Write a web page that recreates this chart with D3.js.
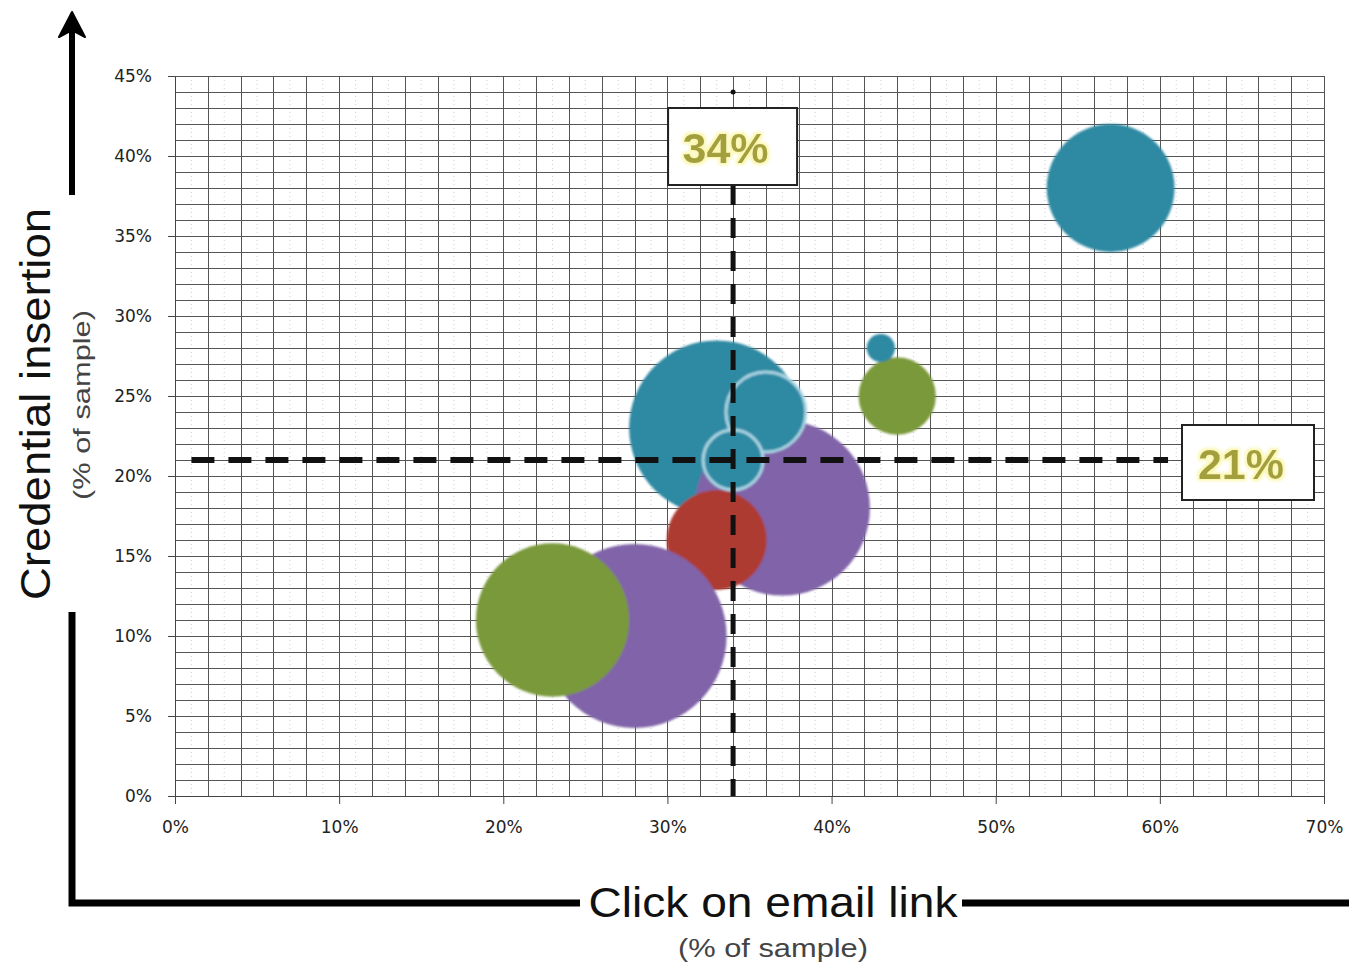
<!DOCTYPE html>
<html>
<head>
<meta charset="utf-8">
<script src="https://cdn.jsdelivr.net/npm/d3@7"></script>
<style>
  html, body { margin: 0; padding: 0; background: #fff; }
  svg { display: block; }
</style>
</head>
<body>
<svg id="chart" width="1349" height="964"></svg>
<script>
// Click rate vs. credential insertion rate, per group (percent of sample)
const clickRate      = [33, 37, 36, 34, 33, 28, 23, 44, 43, 57];
const credentialRate = [23, 18, 24, 21, 16, 10, 11, 25, 28, 38];
const bubbleSize     = [77, 77, 16,  9, 25, 85, 59, 15,  2, 41];
const bubbleGroup    = ["A", "B", "A", "A", "C", "B", "D", "D", "A", "A"];

// Average thresholds shown as dashed reference lines
const avgClick = 34;
const avgCredential = 21;

const xTicks = [0, 10, 20, 30, 40, 50, 60, 70];
const yTicks = [0, 5, 10, 15, 20, 25, 30, 35, 40, 45];

const groupColor = { A: "#2e89a3", B: "#8064a8", C: "#ad3a32", D: "#7a993a" };
const ringed = new Set([2, 3]);

const svg = d3.select("#chart");

const x = d3.scaleLinear().domain([0, 70]).range([175, 1324]);
const y = d3.scaleLinear().domain([0, 45]).range([796, 76]);
const r = d3.scaleSqrt().domain([0, 85]).range([0, 92]);

const defs = svg.append("defs");
defs.append("filter").attr("id", "soft")
  .attr("x", "-10%").attr("y", "-10%").attr("width", "120%").attr("height", "120%")
  .append("feGaussianBlur").attr("stdDeviation", 0.9);
const glow = defs.append("filter").attr("id", "glow")
  .attr("x", "-20%").attr("y", "-20%").attr("width", "140%").attr("height", "140%");
glow.append("feMorphology").attr("in", "SourceAlpha").attr("operator", "dilate").attr("radius", 1.5).attr("result", "d");
glow.append("feGaussianBlur").attr("in", "d").attr("stdDeviation", 1.5).attr("result", "b");
glow.append("feFlood").attr("flood-color", "#fbf7b0");
glow.append("feComposite").attr("in2", "b").attr("operator", "in").attr("result", "g");
const gm = glow.append("feMerge");
gm.append("feMergeNode").attr("in", "g");
gm.append("feMergeNode").attr("in", "SourceGraphic");

// ---- grid ----
const grid = svg.append("g");
grid.selectAll("line.minor-v")
  .data(d3.range(1, 70, 2))
  .join("line")
  .attr("x1", d => x(d)).attr("x2", d => x(d))
  .attr("y1", y(45)).attr("y2", y(0))
  .attr("stroke", "#d0d0d0").attr("stroke-width", 1).attr("stroke-dasharray", "1,3");
grid.selectAll("line.v")
  .data(d3.range(0, 71, 2))
  .join("line")
  .attr("x1", d => Math.round(x(d)) + 0.5).attr("x2", d => Math.round(x(d)) + 0.5)
  .attr("y1", y(45)).attr("y2", y(0))
  .attr("stroke", "#555").attr("stroke-width", 1);
grid.selectAll("line.h")
  .data(d3.range(0, 46, 1))
  .join("line")
  .attr("x1", x(0)).attr("x2", x(70))
  .attr("y1", d => Math.round(y(d)) + 0.5).attr("y2", d => Math.round(y(d)) + 0.5)
  .attr("stroke", "#555").attr("stroke-width", 1);

// ---- axes ----
const pct = d => d + "%";
const xAxis = svg.append("g")
  .attr("transform", `translate(0,${y(0)})`)
  .call(d3.axisBottom(x).tickValues(xTicks).tickFormat(pct).tickSize(8).tickPadding(17).tickSizeOuter(0));
const yAxis = svg.append("g")
  .attr("transform", `translate(${x(0)},0)`)
  .call(d3.axisLeft(y).tickValues(yTicks).tickFormat(pct).tickSize(7).tickPadding(16).tickSizeOuter(0));
[xAxis, yAxis].forEach(a => {
  a.select(".domain").attr("stroke", "#444");
  a.selectAll(".tick line").attr("stroke", "#444");
  a.selectAll(".tick text")
    .attr("fill", "#222")
    .style("font-family", "'DejaVu Sans', sans-serif")
    .style("font-size", "17px");
});

// ---- bubbles ----
const bubbles = svg.append("g").attr("filter", "url(#soft)");
bubbles.selectAll("circle")
  .data(clickRate.map((cx, i) => ({ i, cx, cy: credentialRate[i], s: bubbleSize[i], g: bubbleGroup[i] })))
  .join("circle")
  .attr("cx", d => x(d.cx))
  .attr("cy", d => y(d.cy))
  .attr("r", d => r(d.s))
  .attr("fill", d => groupColor[d.g])
  .attr("stroke", d => ringed.has(d.i) ? "#a9d5e4" : "none")
  .attr("stroke-width", 3);

// ---- average reference lines ----
const refs = svg.append("g");
refs.append("line")
  .attr("x1", x(1)).attr("x2", x(60.5))
  .attr("y1", y(avgCredential)).attr("y2", y(avgCredential))
  .attr("stroke", "#111").attr("stroke-width", 6)
  .attr("stroke-dasharray", "23,14");
refs.append("line")
  .attr("x1", x(avgClick)).attr("x2", x(avgClick))
  .attr("y1", 185).attr("y2", y(0))
  .attr("stroke", "#111").attr("stroke-width", 5)
  .attr("stroke-dasharray", "20,13");
refs.append("circle")
  .attr("cx", x(avgClick)).attr("cy", 92).attr("r", 2.5).attr("fill", "#111");

// value boxes
function valueBox(cx, cy, w, h, label) {
  const g = svg.append("g");
  g.append("rect")
    .attr("x", cx - w / 2).attr("y", cy - h / 2)
    .attr("width", w).attr("height", h)
    .attr("fill", "#fff").attr("stroke", "#222").attr("stroke-width", 2);
  g.append("text")
    .attr("x", cx - 7).attr("y", cy + 16)
    .attr("text-anchor", "middle")
    .attr("fill", "#a39f3e")
    .attr("filter", "url(#glow)")
    .style("font-family", "'Liberation Sans', Arial, sans-serif")
    .style("font-weight", "bold")
    .style("font-size", "43px")
    .text(label);
}
valueBox(x(avgClick) - 0.5, 146.5, 129, 77, pct(avgClick));
valueBox(1248, 462.5, 132, 75, pct(avgCredential));

// ---- framing arrows ----
const frame = svg.append("g").attr("stroke", "#000").attr("fill", "none");
frame.append("line").attr("x1", 72).attr("x2", 72).attr("y1", 195).attr("y2", 28).attr("stroke-width", 6);
frame.append("path")
  .attr("d", "M72,12 L85,37 L72,30 L59,37 Z")
  .attr("fill", "#000").attr("stroke", "#000").attr("stroke-width", 2).attr("stroke-linejoin", "round");
frame.append("path")
  .attr("d", "M72,612 L72,903 L580,903")
  .attr("stroke-width", 7);
frame.append("line").attr("x1", 962).attr("x2", 1349).attr("y1", 903).attr("y2", 903).attr("stroke-width", 7);

// ---- axis titles ----
const titleFont = "'Liberation Sans', Arial, sans-serif";
svg.append("text")
  .attr("x", 773).attr("y", 917)
  .attr("text-anchor", "middle")
  .attr("textLength", 369).attr("lengthAdjust", "spacingAndGlyphs")
  .attr("fill", "#111")
  .style("font-family", titleFont).style("font-size", "42px")
  .text("Click on email link");
svg.append("text")
  .attr("x", 773).attr("y", 957)
  .attr("text-anchor", "middle")
  .attr("textLength", 190).attr("lengthAdjust", "spacingAndGlyphs")
  .attr("fill", "#444")
  .style("font-family", titleFont).style("font-size", "25px")
  .text("(% of sample)");
svg.append("text")
  .attr("transform", "translate(50,404) rotate(-90)")
  .attr("text-anchor", "middle")
  .attr("textLength", 392).attr("lengthAdjust", "spacingAndGlyphs")
  .attr("fill", "#111")
  .style("font-family", titleFont).style("font-size", "42px")
  .text("Credential insertion");
svg.append("text")
  .attr("transform", "translate(90,405) rotate(-90)")
  .attr("text-anchor", "middle")
  .attr("textLength", 190).attr("lengthAdjust", "spacingAndGlyphs")
  .attr("fill", "#444")
  .style("font-family", titleFont).style("font-size", "24px")
  .text("(% of sample)");
</script>
</body>
</html>
